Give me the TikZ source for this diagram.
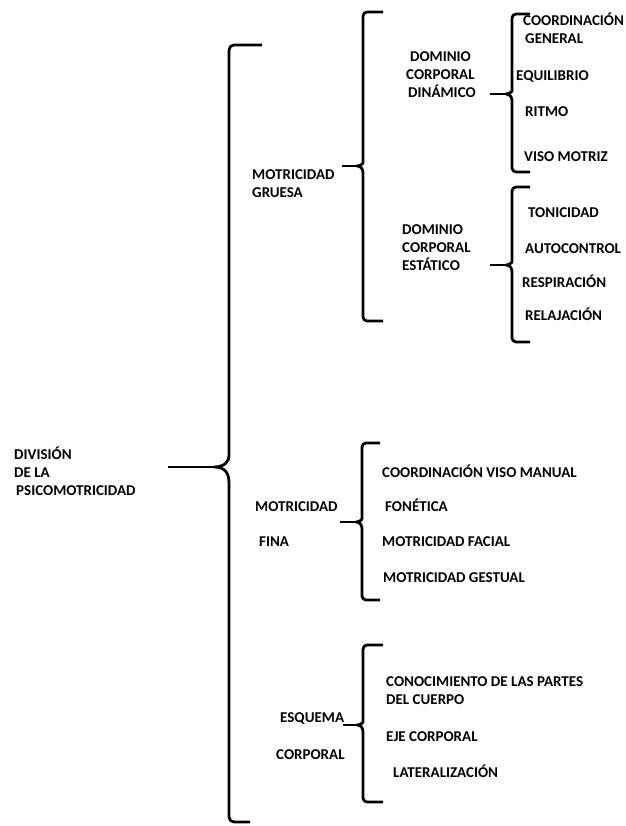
\documentclass[tikz,border=0pt]{standalone}
\usepackage{fontspec}
\setmainfont{Carlito}
\begin{document}
\begin{tikzpicture}[x=1pt,y=-1pt,
    lbl/.style={anchor=base west,inner sep=0pt,align=left,
      font=\fontsize{15}{18}\selectfont\bfseries},
    brace/.style={line width=2.8pt,line join=round}]
      \useasboundingbox (0,0) rectangle (625,826);
      % parent nodes
      \draw
        (14,495) node[lbl] (division){DIVISIÓN\\DE LA\\\hspace{2pt}PSICOMOTRICIDAD}
        (252,198) node[lbl] (gruesa){MOTRICIDAD\\GRUESA}
        (405,98) node[lbl,align=center] (dinamico){DOMINIO\\CORPORAL\\\hspace{3pt}DINÁMICO}
        (402,270) node[lbl] (estatico){DOMINIO\\CORPORAL\\ESTÁTICO}
        (255,511) node[lbl] (fina){MOTRICIDAD}
        (259,546) node[lbl] (fina2){FINA}
        (280,722) node[lbl] (esquema){ESQUEMA}
        (276,759) node[lbl] (esquema2){CORPORAL};
      % leaves
      \draw
        (523,44) node[lbl] (coordgen){COORDINACIÓN\\\hspace{2pt}GENERAL}
        (516,81) node[lbl] (equilibrio){EQUILIBRIO}
        (525,117) node[lbl] (ritmo){RITMO}
        (524,162) node[lbl] (visomotriz){VISO MOTRIZ}
        (528,218) node[lbl] (tonicidad){TONICIDAD}
        (525,253) node[lbl] (autocontrol){AUTOCONTROL}
        (522,287) node[lbl] (respiracion){RESPIRACIÓN}
        (525,320) node[lbl] (relajacion){RELAJACIÓN}
        (382,477) node[lbl] (visomanual){COORDINACIÓN VISO MANUAL}
        (385,511) node[lbl] (fonetica){FONÉTICA}
        (382,546) node[lbl] (facial){MOTRICIDAD FACIAL}
        (383,582) node[lbl] (gestual){MOTRICIDAD GESTUAL}
        (386,704) node[lbl] (partes){CONOCIMIENTO DE LAS PARTES\\DEL CUERPO}
        (386,741) node[lbl] (eje){EJE CORPORAL}
        (393,777) node[lbl] (lateralizacion){LATERALIZACIÓN};
      % brace tips
      \coordinate (tdivision) at (168,467);
      \coordinate (tgruesa) at (342,166);
      \coordinate (tdinamico) at (490,94);
      \coordinate (testatico) at (490,265);
      \coordinate (tfina) at (340,522);
      \coordinate (tesquema) at (343,725);
      \begin{scope}[brace]
        \draw (262,45) [rounded corners=5pt] -- (229,45) -- (229,451) [sharp corners]
          .. controls (229,461) and (225,467) .. (214,467)
          .. controls (225,467) and (229,473) .. (229,483) [rounded corners=5pt]
          -- (229,822) -- (250,822);
        \draw (tdivision) -- (214,467);
        \draw (383,12) [rounded corners=4pt] -- (363,12) -- (363,159) [sharp corners]
          .. controls (363,163) and (361,166) .. (357,166)
          .. controls (361,166) and (363,169) .. (363,173) [rounded corners=4pt]
          -- (363,321) -- (383,321);
        \draw (tgruesa) -- (357,166);
        \draw (530,14) [rounded corners=4pt] -- (512,14) -- (512,87) [sharp corners]
          .. controls (512,91) and (510,94) .. (506,94)
          .. controls (510,94) and (512,97) .. (512,101) [rounded corners=4pt]
          -- (512,172) -- (530,172);
        \draw (tdinamico) -- (506,94);
        \draw (530,187) [rounded corners=4pt] -- (512,187) -- (512,258) [sharp corners]
          .. controls (512,262) and (510,265) .. (506,265)
          .. controls (510,265) and (512,268) .. (512,272) [rounded corners=4pt]
          -- (512,342) -- (530,342);
        \draw (testatico) -- (506,265);
        \draw (380,443) [rounded corners=4pt] -- (362,443) -- (362,515) [sharp corners]
          .. controls (362,519) and (360,522) .. (356,522)
          .. controls (360,522) and (362,525) .. (362,529) [rounded corners=4pt]
          -- (362,600) -- (380,600);
        \draw (tfina) -- (356,522);
        \draw (383,645) [rounded corners=4pt] -- (363,645) -- (363,718) [sharp corners]
          .. controls (363,722) and (361,725) .. (357,725)
          .. controls (361,725) and (363,728) .. (363,732) [rounded corners=4pt]
          -- (363,802) -- (383,802);
        \draw (tesquema) -- (357,725);
      \end{scope}
    \end{tikzpicture}
\end{document}
